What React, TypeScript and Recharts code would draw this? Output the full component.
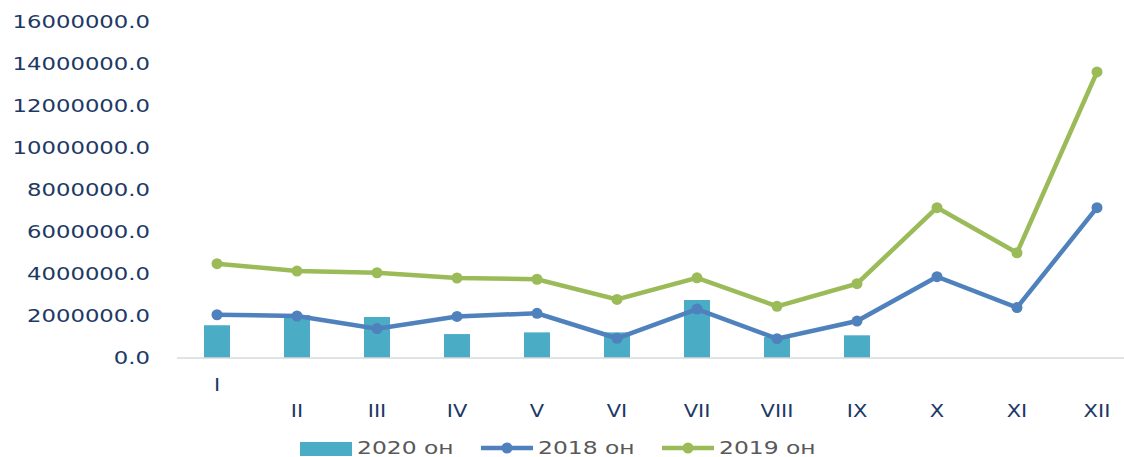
import { ComposedChart, Bar, Line, XAxis, YAxis } from "recharts";

const months = ["I", "II", "III", "IV", "V", "VI", "VII", "VIII", "IX", "X", "XI", "XII"];
const sales2020 = [1560000, 2050000, 1950000, 1140000, 1220000, 1220000, 2760000, 1000000, 1080000, null, null, null];
const sales2018 = [2060000, 2000000, 1400000, 1980000, 2130000, 940000, 2330000, 920000, 1760000, 3870000, 2400000, 7160000];
const sales2019 = [4490000, 4140000, 4060000, 3810000, 3750000, 2790000, 3820000, 2460000, 3540000, 7160000, 5010000, 13620000];
const yTicks = [0, 2000000, 4000000, 6000000, 8000000, 10000000, 12000000, 14000000, 16000000];

const data = months.map((m, i) => ({
  month: m,
  s2020: sales2020[i],
  s2018: sales2018[i],
  s2019: sales2019[i],
}));

const TEXT = "#203864";
const FONT = "DejaVu Sans";

function YTick({ x, y, payload }: any) {
  return (
    <text
      transform={`translate(${x}, ${y}) scale(1.3, 1)`}
      textAnchor="end"
      dy="0.36em"
      fill={TEXT}
      fontFamily={FONT}
      fontSize={17.5}
    >
      {Number(payload.value).toFixed(1)}
    </text>
  );
}

function XTick({ x, payload, index }: any) {
  // first label sits higher, as in the original
  const base = index === 0 ? 391 : 417;
  return (
    <text
      transform={`translate(${x}, ${base}) scale(1.2, 1)`}
      textAnchor="middle"
      fill={TEXT}
      fontFamily={FONT}
      fontSize={17.5}
    >
      {payload.value}
    </text>
  );
}

const legendItems = [
  { label: "2020 он", color: "#4BACC6", kind: "bar" },
  { label: "2018 он", color: "#4F81BD", kind: "line" },
  { label: "2019 он", color: "#9BBB59", kind: "line" },
];

function LegendRow() {
  return (
    <div style={{ position: "absolute", left: 300, top: 440, height: 16, display: "flex", alignItems: "center" }}>
      {legendItems.map((it) => (
        <div key={it.label} style={{ display: "flex", alignItems: "center", marginRight: 28, height: 16 }}>
          <svg width={52} height={16} style={{ display: "block" }}>
            {it.kind === "bar" ? (
              <rect x={0} y={2} width={52} height={14} fill={it.color} />
            ) : (
              <g>
                <line x1={0} y1={8} x2={52} y2={8} stroke={it.color} strokeWidth={4.5} />
                <circle cx={26} cy={8} r={5.5} fill={it.color} />
              </g>
            )}
          </svg>
          <span
            style={{
              display: "inline-block",
              marginLeft: 5,
              width: 96,
              height: 16,
              lineHeight: "16px",
              fontFamily: FONT,
              fontSize: 18,
              color: "#595959",
              transform: "scale(1.3, 1)",
              transformOrigin: "left center",
              whiteSpace: "nowrap",
            }}
          >
            {it.label}
          </span>
        </div>
      ))}
    </div>
  );
}

export default function App() {
  return (
    <div style={{ position: "absolute", left: 0, top: 0, width: 1124, height: 457, overflow: "hidden", background: "#fff" }}>
      <ComposedChart width={1140} height={457} data={data} margin={{ top: 22, right: 3, left: 0, bottom: 0 }}>
        <XAxis
          dataKey="month"
          height={99}
          axisLine={{ stroke: "#D9D9D9", strokeWidth: 1.5 }}
          tickLine={false}
          tick={<XTick />}
          interval={0}
        />
        <YAxis
          width={177}
          domain={[0, 16000000]}
          ticks={yTicks}
          axisLine={false}
          tickLine={false}
          tickSize={0}
          tickMargin={27}
          tick={<YTick />}
        />
        <Bar dataKey="s2020" fill="#4BACC6" barSize={26} isAnimationActive={false} />
        <Line
          dataKey="s2018"
          stroke="#4F81BD"
          strokeWidth={4.5}
          dot={{ r: 5.5, fill: "#4F81BD", strokeWidth: 0 }}
          activeDot={false}
          isAnimationActive={false}
        />
        <Line
          dataKey="s2019"
          stroke="#9BBB59"
          strokeWidth={4.5}
          dot={{ r: 5.5, fill: "#9BBB59", strokeWidth: 0 }}
          activeDot={false}
          isAnimationActive={false}
        />
      </ComposedChart>
      <LegendRow />
    </div>
  );
}
